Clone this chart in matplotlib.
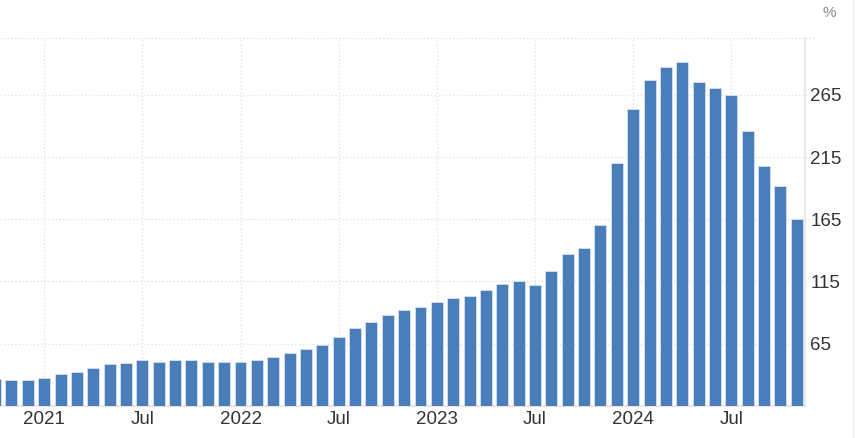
import matplotlib.pyplot as plt

# monthly values, Oct 2020 .. Nov 2024
months = ['2020-10', '2020-11', '2020-12',
          '2021-01', '2021-02', '2021-03', '2021-04', '2021-05', '2021-06',
          '2021-07', '2021-08', '2021-09', '2021-10', '2021-11', '2021-12',
          '2022-01', '2022-02', '2022-03', '2022-04', '2022-05', '2022-06',
          '2022-07', '2022-08', '2022-09', '2022-10', '2022-11', '2022-12',
          '2023-01', '2023-02', '2023-03', '2023-04', '2023-05', '2023-06',
          '2023-07', '2023-08', '2023-09', '2023-10', '2023-11', '2023-12',
          '2024-01', '2024-02', '2024-03', '2024-04', '2024-05', '2024-06',
          '2024-07', '2024-08', '2024-09', '2024-10', '2024-11']
values = [36.5, 35.4, 35.4,
          37.6, 40.5, 42.4, 45.6, 48.6, 49.4,
          51.6, 50.2, 51.6, 51.6, 50.5, 50.5,
          50.5, 51.6, 54.5, 57.5, 60.7, 63.6,
          70.4, 77.6, 82.7, 87.6, 91.6, 94.6,
          98.1, 101.3, 103.1, 108.2, 113.1, 115.2,
          112.3, 123.3, 137.3, 142.1, 160.0, 210.0,
          253.5, 276.6, 287.3, 291.4, 275.5, 270.4,
          265.3, 236.2, 208.2, 192.1, 165.0]
y_ticks = [65, 115, 165, 215, 265]

plt.rcParams['font.family'] = ['Liberation Sans', 'DejaVu Sans']

x = list(range(len(months)))
xtick_pos = [i for i, m in enumerate(months) if m[5:] in ('01', '07')]
xtick_lab = [m[:4] if m[5:] == '01' else 'Jul' for m in months if m[5:] in ('01', '07')]

grid_col = '#e3e3e3'
txt_col = '#333333'

fig = plt.figure(figsize=(8.6, 4.38), dpi=100)
ax = fig.add_axes([0.0, 0.0737, 0.9366, 0.8402])

ax.bar(x, values, width=0.73, color='#4a7ebb', edgecolor='#d5e1f0', linewidth=0.6, zorder=3)

ax.set_xlim(0.30, 49.53)
ax.set_ylim(15, 311)

ax.set_yticks(y_ticks)
ax.yaxis.tick_right()
ax.set_xticks(xtick_pos)
ax.set_xticklabels(xtick_lab)
ax.tick_params(axis='both', length=0, labelsize=13.5, labelcolor=txt_col)
ax.tick_params(axis='y', pad=3.5)
ax.tick_params(axis='x', pad=4)

ax.grid(True, color=grid_col, linestyle=':', linewidth=1.0, zorder=0)
# gridlines run a bit past the right border
for v in y_ticks + [311]:
    ax.plot([1.0, 1.013], [v, v], transform=ax.get_yaxis_transform(),
            color=grid_col, ls=':', lw=1.0, clip_on=False)

for s in ['left', 'top']:
    ax.spines[s].set_visible(False)
ax.spines['right'].set_color('#ebebeb')
ax.spines['right'].set_linewidth(1.5)
ax.spines['bottom'].set_color('#e6e6e6')
ax.spines['bottom'].set_linewidth(1.5)
ax.axhline(311, color=grid_col, ls=':', lw=1.0, zorder=0)

fig.text(0.9645, 0.97, '%', ha='center', va='center', fontsize=11,
         color='#888888')
fig.add_artist(plt.Line2D([0.992, 0.992], [0, 1], color='#f0f0f0', lw=1))

fig.savefig('out.png', dpi=100)
